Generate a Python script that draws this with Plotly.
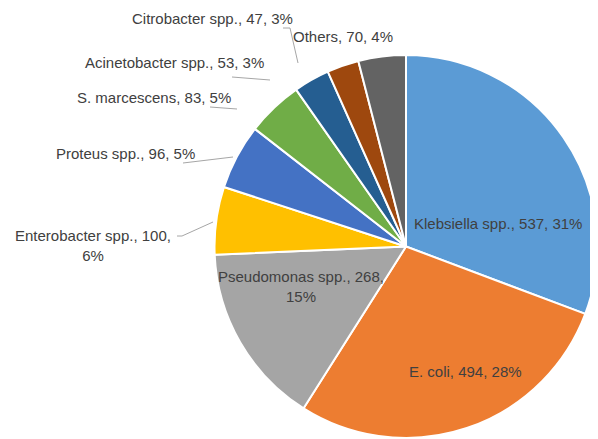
import plotly.graph_objects as go

W, H = 598, 439
OFF = 8  # page body margin of the browser

labels = ["Klebsiella spp.", "E. coli", "Pseudomonas spp.", "Enterobacter spp.",
          "Proteus spp.", "S. marcescens", "Acinetobacter spp.", "Citrobacter spp.", "Others"]
values = [537, 494, 268, 100, 96, 83, 53, 47, 70]
colors = ["#5B9BD5", "#ED7D31", "#A5A5A5", "#FFC000", "#4472C4",
          "#70AD47", "#255E91", "#9E480E", "#636363"]

# label placement in pixels (centre of text) and leader lines
label_pos = {
    "Klebsiella spp.": (498, 224),
    "E. coli": (465, 371),
    "Pseudomonas spp.": (301, 286),
    "Enterobacter spp.": (93, 245),
    "Proteus spp.": (125, 153),
    "S. marcescens": (154, 97),
    "Acinetobacter spp.": (174, 63),
    "Citrobacter spp.": (212, 19),
    "Others": (343, 36),
}
wrapped = {"Pseudomonas spp.", "Enterobacter spp."}
leaders = [
    [(283, 28), (290, 28), (298, 63)],
    [(232, 77), (270, 80)],
    [(210, 107), (237, 109)],
    [(183, 163), (233, 157)],
    [(177, 236), (182, 236), (213, 222)],
]


def px(x, y):
    return (x - OFF) / W, 1 - (y - OFF) / H


total = sum(values)

x0, y0 = px(214, 438)
x1, y1 = px(598, 55)

fig = go.Figure(
    go.Pie(
        labels=labels,
        values=values,
        sort=False,
        direction="clockwise",
        rotation=0,
        marker=dict(colors=colors, line=dict(color="white", width=2)),
        textinfo="none",
        textposition="none",
        hoverinfo="label+value+percent",
        domain=dict(x=[x0, x1], y=[y0, y1]),
        showlegend=False,
    )
)

for name, val in zip(labels, values):
    pct = round(val / total * 100)
    if name in wrapped:
        txt = f"{name}, {val},<br>{pct}%"
    else:
        txt = f"{name}, {val}, {pct}%"
    x, y = px(*label_pos[name])
    fig.add_annotation(
        x=x, y=y, xref="paper", yref="paper", text=txt, showarrow=False,
        align="center", xanchor="center", yanchor="middle",
        font=dict(family="Liberation Sans, Arial", size=15, color="#404040"),
    )

for pts in leaders:
    path = "M " + " L ".join(f"{px(a, b)[0]},{px(a, b)[1]}" for a, b in pts)
    fig.add_shape(type="path", path=path, xref="paper", yref="paper",
                  line=dict(color="#A6A6A6", width=1))

fig.update_layout(
    width=W, height=H,
    margin=dict(l=0, r=0, t=0, b=0),
    paper_bgcolor="white",
    plot_bgcolor="white",
)

fig.write_html("out.html")
